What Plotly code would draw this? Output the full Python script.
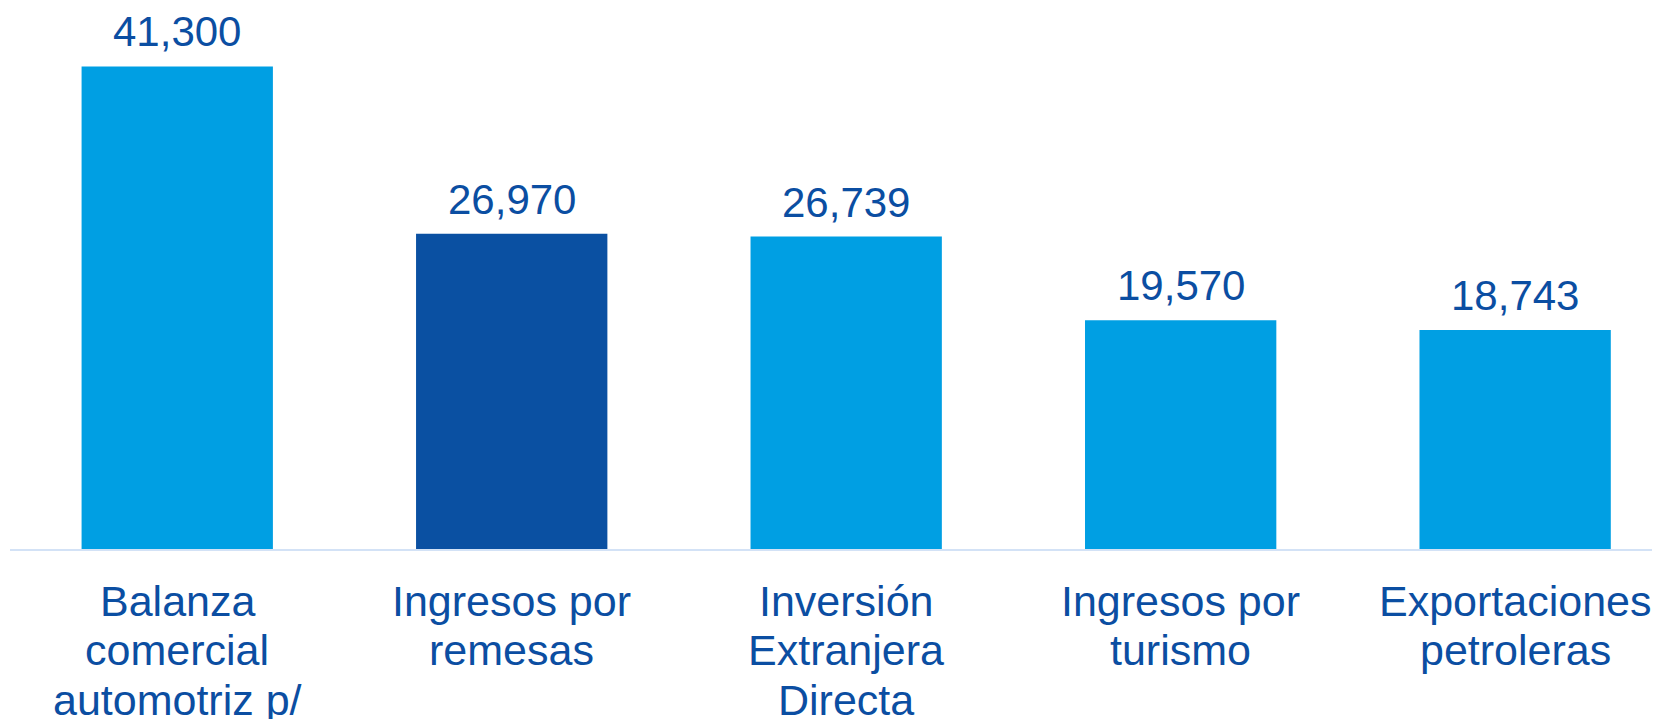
import plotly.graph_objects as go

categories = ["Balanza comercial automotriz p/", "Ingresos por remesas", "Inversión Extranjera Directa",
              "Ingresos por turismo", "Exportaciones petroleras"]
label_lines = [["Balanza", "comercial", "automotriz p/"],
               ["Ingresos por", "remesas"],
               ["Inversión", "Extranjera", "Directa"],
               ["Ingresos por", "turismo"],
               ["Exportaciones", "petroleras"]]
values = [41300, 26970, 26739, 19570, 18743]
value_labels = ["41,300", "26,970", "26,739", "19,570", "18,743"]
colors = ["#009FE3", "#0A50A2", "#009FE3", "#009FE3", "#009FE3"]

TEXT = "#0B4EA2"
FONT = "Liberation Sans, Arial, sans-serif"

fig = go.Figure(go.Bar(x=categories, y=values, marker=dict(color=colors, line=dict(width=0)),
                       width=0.572, hoverinfo="skip"))

annotations = []
for c, v, t in zip(categories, values, value_labels):
    annotations.append(dict(x=c, y=v, xref="x", yref="y", text=t, showarrow=False,
                            yanchor="bottom", yshift=9, font=dict(size=42, color=TEXT, family=FONT)))
for c, lines in zip(categories, label_lines):
    for i, ln in enumerate(lines):
        annotations.append(dict(x=c, y=0, xref="x", yref="y", text=ln, showarrow=False,
                                yanchor="middle", yshift=-(51.5 + i * 49.8),
                                font=dict(size=43, color=TEXT, family=FONT)))

fig.update_layout(
    width=1660, height=719,
    margin=dict(l=2, r=0, t=0, b=177.5),
    paper_bgcolor="white", plot_bgcolor="white",
    showlegend=False,
    annotations=annotations,
    xaxis=dict(range=[-0.5, 4.457], showticklabels=False, showgrid=False, zeroline=False,
               showline=True, linecolor="#D3E2F6", linewidth=2, ticks=""),
    yaxis=dict(range=[0, 46300], visible=False, showgrid=False, zeroline=False),
)

fig.write_html("out.html")
